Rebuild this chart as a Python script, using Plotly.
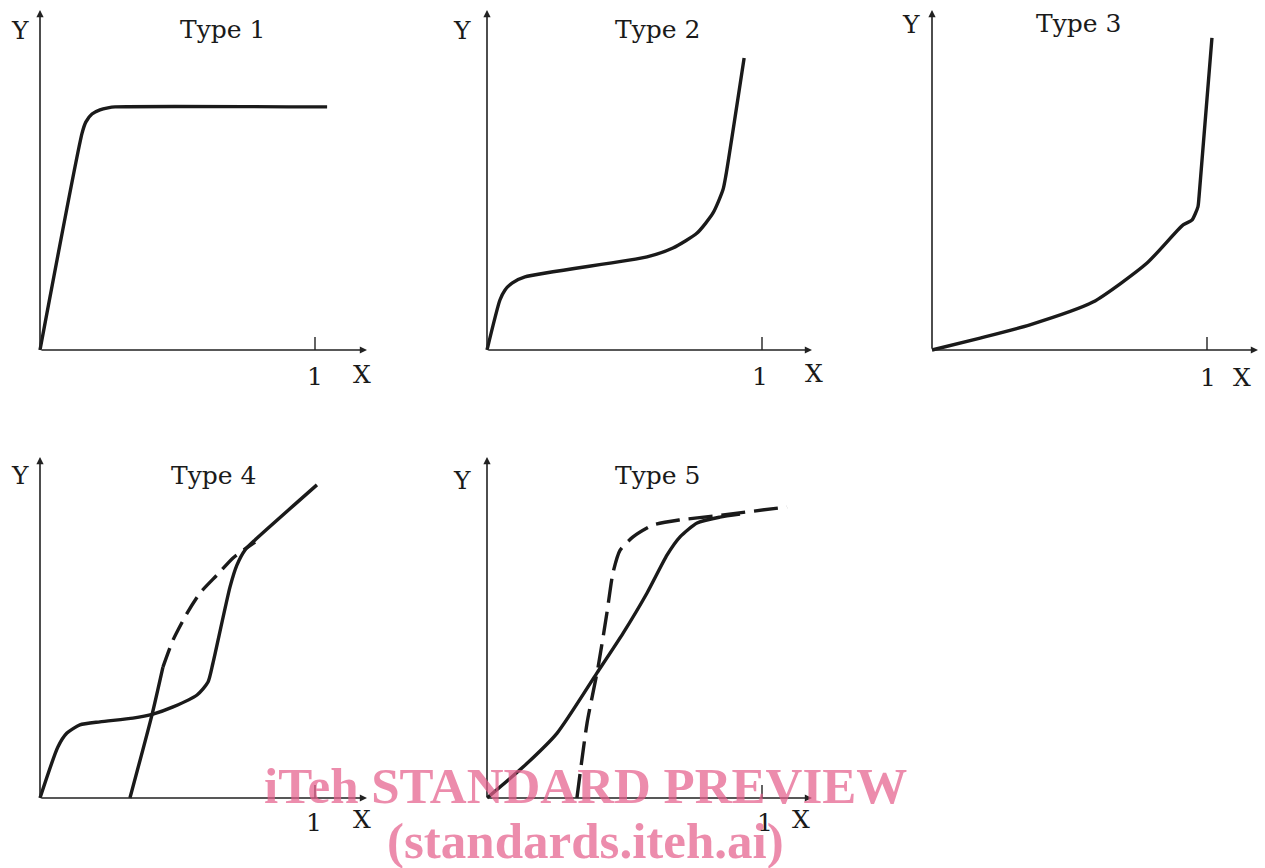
import plotly.graph_objects as go

W, H = 1265, 868

# ---- data (x in units of relative pressure, y in relative amount) ----
t1_x = [0.0, 0.153, 0.167, 0.189, 0.218, 0.247, 0.273, 1.044]
t1_y = [0.0, 0.638, 0.671, 0.694, 0.706, 0.712, 0.715, 0.715]

t2_x = [0.0, 0.047, 0.065, 0.091, 0.138, 0.582, 0.676, 0.764, 0.822, 0.858, 0.869, 0.935]
t2_y = [0.0, 0.147, 0.176, 0.197, 0.215, 0.274, 0.300, 0.344, 0.403, 0.471, 0.515, 0.859]

t3_x = [0.0, 0.175, 0.356, 0.585, 0.782, 0.913, 0.945, 0.967, 0.971, 1.018]
t3_y = [0.0, 0.035, 0.074, 0.141, 0.256, 0.368, 0.382, 0.421, 0.450, 0.918]

t4a_x = [0.0, 0.065, 0.098, 0.145, 0.218, 0.338, 0.411, 0.484, 0.571, 0.611, 0.629, 0.691, 0.716, 0.745, 0.782, 1.007]
t4a_y = [0.0, 0.150, 0.191, 0.215, 0.224, 0.235, 0.247, 0.268, 0.303, 0.341, 0.397, 0.621, 0.685, 0.729, 0.759, 0.921]
t4b_solid_x = [0.327, 0.407, 0.447]
t4b_solid_y = [0.0, 0.244, 0.385]
t4b_dash_x = [0.447, 0.484, 0.535, 0.582, 0.644, 0.702, 0.782]
t4b_dash_y = [0.385, 0.465, 0.544, 0.603, 0.656, 0.706, 0.753]

t5a_x = [0.0, 0.131, 0.255, 0.400, 0.495, 0.582, 0.655, 0.702, 0.764, 0.847, 0.920]
t5a_y = [0.0, 0.091, 0.191, 0.368, 0.485, 0.603, 0.715, 0.768, 0.809, 0.826, 0.835]
t5b_x = [0.327, 0.364, 0.404, 0.436, 0.458, 0.484, 0.531, 0.604, 0.702, 0.822, 1.091]
t5b_y = [0.0, 0.221, 0.385, 0.544, 0.662, 0.729, 0.768, 0.803, 0.818, 0.829, 0.856]

titles = ["Type 1", "Type 2", "Type 3", "Type 4", "Type 5"]
tick_label = "1"
x_label = "X"
y_label = "Y"

# ---- panel geometry (pixels) ----
panels = [
    dict(ox=40, oy=350, top=10, xend=367, xlab=(362, 375), onelab=(315, 376), ylab=(20, 30)),
    dict(ox=487, oy=350, top=10, xend=812, xlab=(814, 373), onelab=(760, 376), ylab=(462, 31)),
    dict(ox=932, oy=350, top=10, xend=1258, xlab=(1242, 377), onelab=(1208, 377), ylab=(911, 25)),
    dict(ox=40, oy=798, top=457, xend=367, xlab=(362, 819), onelab=(314, 822), ylab=(20, 475)),
    dict(ox=487, oy=798, top=457, xend=812, xlab=(801, 819), onelab=(765, 822), ylab=(462, 480)),
]
XU = 275.0
YU = 340.0

fig = go.Figure()
LW = 3.4
LC = "#1a1a1a"

def add(i, x, y, dash="solid"):
    ax = "" if i == 0 else str(i + 1)
    fig.add_trace(go.Scatter(x=x, y=y, mode="lines", xaxis="x" + ax, yaxis="y" + ax,
                             line=dict(color=LC, width=LW, dash=dash, shape="spline", smoothing=0.6),
                             showlegend=False, hoverinfo="skip", cliponaxis=False))

add(0, t1_x, t1_y)
add(1, t2_x, t2_y)
add(2, t3_x, t3_y)
add(3, t4a_x, t4a_y)
add(3, t4b_solid_x, t4b_solid_y)
add(3, t4b_dash_x, t4b_dash_y, dash="20px,9px")
add(4, t5a_x, t5a_y)
add(4, t5b_x, t5b_y, dash="24px,9px")

layout = dict(width=W, height=H, margin=dict(l=0, r=0, t=0, b=0),
              paper_bgcolor="white", plot_bgcolor="rgba(0,0,0,0)", autosize=False)
annotations = []
shapes = []
font = dict(family="DejaVu Serif", size=25, color="#1a1a1a")


def paper_text(px, py, text, f=font):
    return dict(x=px / W, y=1 - py / H, xref="paper", yref="paper", text=text,
                showarrow=False, font=f, xanchor="center", yanchor="middle")


for i, p in enumerate(panels):
    ax = "" if i == 0 else str(i + 1)
    xname = "xaxis" + ax
    yname = "yaxis" + ax
    x0 = p["ox"] - 10
    x1 = W if i == 2 else p["xend"] + 20
    xr = [(x0 - p["ox"]) / XU, (x1 - p["ox"]) / XU]
    y0 = p["oy"] + 10
    y1 = p["top"] - 8
    yr = [(p["oy"] - y0) / YU, (p["oy"] - y1) / YU]
    layout[xname] = dict(domain=[x0 / W, x1 / W], range=xr, visible=False, fixedrange=True,
                         anchor="y" + ax)
    layout[yname] = dict(domain=[1 - y0 / H, 1 - y1 / H], range=yr, visible=False, fixedrange=True,
                         anchor="x" + ax)
    xend = (p["xend"] - p["ox"]) / XU
    ytop = (p["oy"] - p["top"]) / YU
    # axes with arrows
    annotations.append(dict(x=xend, y=0, ax=0, ay=0, xref="x" + ax, yref="y" + ax,
                            axref="x" + ax, ayref="y" + ax, showarrow=True, text="",
                            arrowhead=2, arrowsize=0.9, arrowwidth=1.6, arrowcolor="#222"))
    annotations.append(dict(x=0, y=ytop, ax=0, ay=0, xref="x" + ax, yref="y" + ax,
                            axref="x" + ax, ayref="y" + ax, showarrow=True, text="",
                            arrowhead=2, arrowsize=0.9, arrowwidth=1.6, arrowcolor="#222"))
    # tick at x=1
    shapes.append(dict(type="line", xref="x" + ax, yref="y" + ax, x0=1, x1=1, y0=0, y1=13 / YU,
                       line=dict(color="#222", width=1.4)))
    # tick label, X, Y labels
    annotations.append(paper_text(*p["onelab"], tick_label))
    annotations.append(paper_text(*p["xlab"], x_label))
    annotations.append(paper_text(*p["ylab"], y_label))

title_pos = [(222, 29), (657, 29), (1078, 24), (213, 476), (657, 476)]
for t, (tx, ty) in zip(titles, title_pos):
    annotations.append(paper_text(tx, ty, t))

# watermark
wm = dict(family="Liberation Serif", size=51, color="rgba(228,95,140,0.72)")
annotations.append(paper_text(585, 786, "<b>iTeh STANDARD PREVIEW</b>", wm))
annotations.append(paper_text(585, 841, "<b>(standards.iteh.ai)</b>", wm))

layout["annotations"] = annotations
layout["shapes"] = shapes
fig.update_layout(**layout)
fig.write_html("out.html", config={"displayModeBar": False},
               post_script="document.body.style.margin='0';")
